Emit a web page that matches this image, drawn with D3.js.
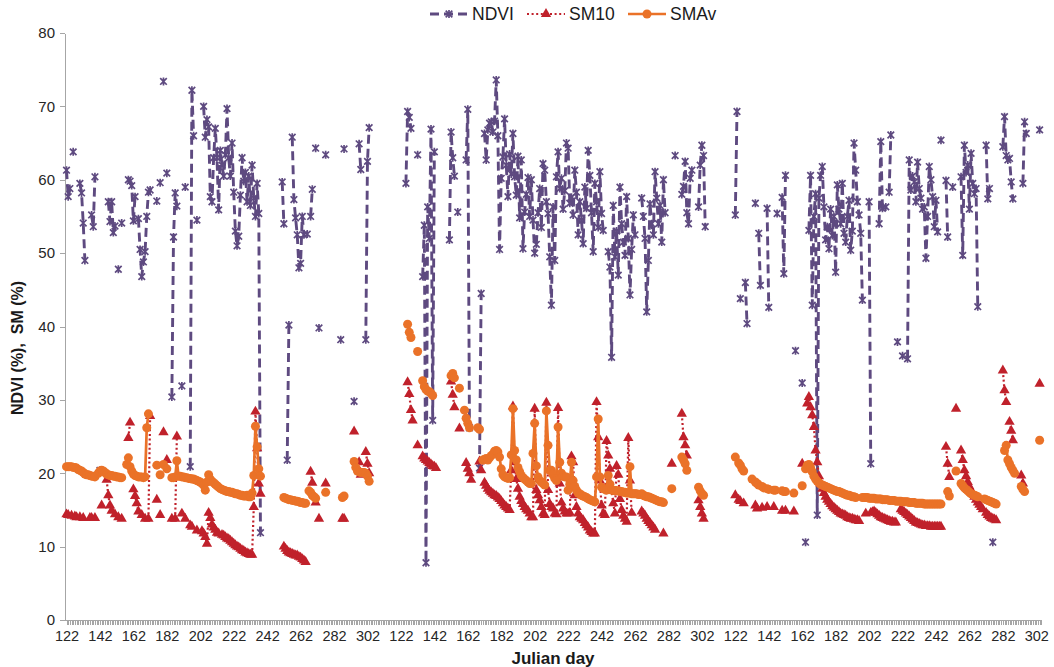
<!DOCTYPE html>
<html lang="en">
<head>
<meta charset="utf-8">
<title>NDVI, SM10, SMAv</title>
<script src="https://cdn.jsdelivr.net/npm/d3@7/dist/d3.min.js"></script>
<style>
  body { margin: 0; background: #fff; }
  text { font-family: "Liberation Sans", Arial, sans-serif; }
  .axis path, .axis line { stroke: #a6a6a6; shape-rendering: crispEdges; }
  .axis text { fill: #262626; }
</style>
</head>
<body>
<svg id="chart" width="1054" height="667"></svg>
<script>
// three seasons side by side on a category axis, each season = days 122..321
var seasonStart = 122;
var seasonLength = 200;
var tickDays = [122, 142, 162, 182, 202, 222, 242, 262, 282, 302];
var yTicks = [0, 10, 20, 30, 40, 50, 60, 70, 80];
var seriesNames = ["NDVI", "SM10", "SMAv"];

// runs of consecutive days: [first day, [values...]]
var ndviSeason1 = [[122,[61.3,57.7,58.8]],[126,[63.8]],[130,[59.5,58.2,54.1,49.0]],[137,[55.2,53.6,60.4]],[142,[20.4]],
  [147,[57.0,54.3,57.0,52.8,53.7]],[153,[47.8]],[155,[54.1]],[159,[60.0,59.8,59.2,54.4,57.7]],
  [165,[54.7,50.5,46.8,48.8,50.2,55.0,58.3,58.6]],[176,[57.1]],[178,[59.6]],[180,[73.4]],[182,[60.9]],
  [185,[30.4,52.2,58.2,56.4]],[191,[31.9]],[193,[59.0]],[196,[20.9,72.2,66.0]],[200,[54.5]],
  [204,[70.0,65.8,68.2,67.2,57.7,57.0,63.0,67.0,63.0,55.9,64.0,62.0,60.5,63.4,69.7,63.0,60.5,65.0,58.3,53.0,51.0,52.3,57.9,63.0,59.8,61.0,57.0,60.5,56.5,62.0,57.5,55.0,59.5,55.4,11.9]],
  [251,[59.7,54.0]],[254,[21.8,40.2]],[257,[65.8,57.3,54.8,52.5,48.0,48.6,55.0,52.5]],[266,[52.6]],
  [268,[55.0,58.7]],[271,[64.3]],[273,[39.8]],[277,[63.4]],[286,[38.2]],[288,[64.2]],[294,[29.8]],
  [297,[64.9,61.4]],[301,[38.2,62.5,67.1]]];
var ndviSeason2 = [[125,[59.5,69.3,68.5,67.0]],[132,[63.4]],[135,[46.8,53.8,7.8,56.3,52.0,66.9,27.2,63.8]],
  [151,[51.8,66.5,63.0,60.5]],[156,[55.6]],[161,[62.7,69.6,26.2]],[169,[20.7,44.5]],
  [172,[66.3,62.7,66.8,67.7,67.9,66.5,68.0,73.6,66.0,50.5,60.2,63.1,68.3,62.0,57.7,63.5,60.8,66.3,60.4,57.9,63.2,54.8,62.7,50.6,55.6,58.0,60.3,55.0,60.0,54.5,50.0,51.2,55.5,58.8,53.5,62.2,61.3,57.0,55.4,49.5,42.9,56.3,49.0,60.4,63.8,58.8,60.2,56.0,58.5,65.0,64.3,56.8,57.6,55.2,61.3,58.3,52.5,57.0,54.5,51.3,59.0,56.1,64.0,60.6,55.5,50.2,59.5,57.0,53.5,61.1,55.4,53.1]],
  [246,[50.2,48.1,35.8,56.5,49.5,53.0,47.0,59.0,54.0,51.5,49.7,57.7,52.0,44.3,50.5,55.2,52.5]],
  [266,[57.5,55.0,52.0,42.0,49.0,56.7,54.0,52.5,61.1,57.5,54.0,56.5,51.5,60.0,55.5]],
  [286,[63.3]],[290,[58.0,59.1,62.5,55.5,54.0,60.2,61.3]],[300,[56.3,62.0,64.7,63.3,53.6]]];
var ndviSeason3 = [[122,[55.2,69.3]],[125,[43.8]],[128,[46.0,40.4]],[134,[56.8]],[136,[52.7,45.6]],[141,[56.1,42.6]],
  [147,[55.4]],[150,[57.6,47.2,60.6]],[158,[36.7]],[162,[32.3]],[164,[10.6]],
  [166,[53.1,60.6,42.9,55.0,58.1,14.3,57.5,60.6,61.8,56.3,51.8,53.6,50.6,56.0,52.4,55.0,47.4,59.3,56.0,54.0,59.5,52.7,51.5,55.0,57.2,50.4,53.0,65.0,61.3,57.0,55.2,52.7,43.6]],
  [202,[57.0,21.3]],[208,[54.0,65.2,56.1]],[212,[56.3]],[214,[58.3,66.1]],[219,[37.9]],[222,[36.0]],
  [225,[35.6,62.7,58.6,60.5,59.7,57.0,62.4,58.8,57.5,56.0,56.3,49.3,55.0,61.8,60.0,57.7,53.6,57.2,52.9]],
  [245,[65.4]],[248,[59.9,52.2]],[252,[59.0]],[257,[60.4,49.7,64.7,61.0,62.0,56.0,63.6,59.5,58.1,58.8,42.7]],
  [272,[64.7,57.4,58.8]],[276,[10.6]],[282,[64.5,68.6,63.3,62.7,62.9,59.7,57.4]],[294,[59.5,67.9,66.3]],[304,[66.8]]];

var sm10Season1 = [[122,[14.4,14.3]],[125,[14.2]],[127,[14.1,14.0]],[130,[14.0]],[132,[13.9]],[136,[13.9,13.9]],[139,[13.9]],
  [143,[15.6]],[146,[19.1,17.0,15.6,14.9]],[151,[14.4]],[153,[14.0]],[155,[13.8]],[159,[24.8,26.9]],
  [162,[17.8,16.9,15.9,14.8]],[167,[14.3]],[169,[13.8]],[171,[13.8,27.8]],[176,[16.4]],[178,[14.3]],[180,[25.6]],[182,[21.8]],
  [185,[13.8]],[187,[13.8,25.0]],[191,[14.5]],[193,[13.8]],[196,[12.9,12.7]],[200,[12.2]],
  [203,[12.1,11.8,11.3,10.4,14.6,13.9,13.0,12.6,12.3,11.9,11.8]],
  [215,[11.6,11.5,11.3,11.1,11.0,10.8,10.6,10.4,10.2,10.0,9.9,9.7,9.5,9.4,9.2,9.1,9.0,8.9,8.9,15.4,28.4,23.4,18.6,17.2]],
  [252,[10.0,9.7,9.4,9.2,9.1,9.0,8.9,8.8,8.8,8.6,8.5,8.3,8.1,7.9]],
  [268,[20.2,18.7]],[271,[16.0]],[273,[13.8]],[277,[18.6]],[287,[13.8,13.8]],[294,[25.7]],[297,[21.5,19.8]],[301,[22.9,21.3,20.0]]];
var sm10Season2 = [[126,[32.4,30.8,28.6,27.2]],[132,[23.8]],[135,[22.3,22.0,21.8,21.6,21.4,21.2,21.0,20.9,20.7]],
  [152,[32.5,30.7,29.0]],[157,[26.1]],[161,[21.4,20.6,20.0,19.1]],[169,[21.6,20.4]],
  [172,[18.7,18.3,17.9,17.6,17.4,17.2,17.0,16.9,16.7,16.5,16.2,15.9,15.6,15.4,15.2,15.0,20.4,29.1,21.5,19.2,17.9,16.8,16.2,15.8,15.4,15.1,14.9,14.5,14.0,14.0,28.8,17.7,17.0,16.3,15.4,14.5,14.3,29.6,17.7,15.8,15.4,15.2,14.5,14.4,28.9,18.6,16.0,15.2,14.8,14.5,14.5,14.6,22.3,21.5,17.0,15.4,14.5,14.0,13.8,13.6,13.2,12.9,12.6,12.2,12.0,11.8,11.8,29.7,24.9,19.0,15.6,14.5,14.3,24.4,22.4,20.6,17.7,15.9,14.5,21.0,19.8,16.5,15.0,14.2,13.8,13.4,24.8,19.0,14.6]],
  [266,[14.8,14.5,14.2,13.8,13.5,13.2,12.9,12.6,12.3]],[279,[11.8]],[284,[21.3]],[290,[28.1,24.9,23.8,22.4]],[300,[16.3,15.4,14.5,13.8]]];
var sm10Season3 = [[122,[17.0]],[124,[16.4,16.2]],[127,[15.9]],[134,[15.6,15.2]],[138,[15.3]],[141,[15.4]],[145,[15.4]],
  [150,[14.9]],[152,[14.9]],[157,[14.8]],[162,[21.3]],
  [165,[29.5,30.4,29.0,27.9,26.3,23.1,21.5,19.6,18.6,17.9,17.3,16.8,16.4,16.1,15.8,15.5,15.3,15.1,14.9,14.7,14.5,14.4,14.3,14.2,14.0,13.9,13.8,13.8,13.7,13.6,13.6,13.5]],
  [200,[14.5]],[203,[14.6,14.7,14.8,14.6,14.4,14.2,14.0,13.9,13.8,13.7,13.6,13.5,13.4,13.4,13.3,13.3]],
  [221,[15.1,14.9,14.7,14.5,14.3,14.1,13.9,13.7,13.5,13.3,13.2,13.1,13.0,12.9,12.9,12.8,12.8,12.8,12.7,12.7,12.7,12.7,12.7,12.7,12.7]],
  [248,[23.6,21.3,19.5]],[254,[28.8]],[257,[23.1,21.8,20.4,19.6,18.8,18.2,17.7,17.2,16.8,16.4,16.0,15.7,15.4,15.1]],
  [272,[14.6,14.3,14.1,13.9,13.8,13.7,13.6]],[282,[34.0,31.3,29.7]],[286,[27.0,25.8,24.5]],[293,[19.7,18.6]],[304,[32.2]]];

var smavSeason1 = [[122,[20.9,20.9,20.9,20.9,20.8,20.8,20.7,20.5,20.4,20.3,20.1,19.9,19.8,19.8,19.7,19.6,19.6,19.5]],
  [141,[20.0,20.3,20.4,20.3,20.1,19.9,19.8,19.7,19.7,19.6,19.6,19.5,19.5,19.4,19.4]],
  [158,[21.2,22.1,20.9,20.3,19.9,19.7,19.6,19.5,19.5,19.5,19.4,19.5,26.2,28.1]],
  [176,[21.1]],[178,[19.8]],[180,[21.2]],[182,[20.6]],
  [185,[19.4,19.4,19.5,21.7,19.6,19.6,19.5,19.5,19.4,19.4,19.3,19.3,19.2,19.2,19.1,19.0,18.9,18.8,18.6,18.4,17.7,18.8,19.8,19.2,18.9,18.7,18.5,18.3,18.1,17.9,17.8,17.7,17.6,17.5,17.5,17.4,17.4,17.3,17.2,17.2,17.1,17.0,17.0,16.9,16.9,17.0,16.8,16.8,17.3,19.7,26.4,23.6,20.6,19.6]],
  [252,[16.7,16.6,16.5,16.4,16.4,16.3,16.3,16.2,16.2,16.1,16.0,16.0,15.9,15.9]],
  [267,[17.6,17.4,17.0,16.8,16.6]],[277,[17.4]],[287,[16.7,16.9]],
  [294,[21.6,20.8,20.3,20.2,20.1,20.1,20.1,20.0,19.6,18.9]]];
var smavSeason2 = [[126,[40.3,39.2,38.5]],[132,[36.6]],[135,[32.6,31.8,31.4,31.2,31.1,30.9,30.6]],
  [152,[33.3,33.6,33.0]],[157,[31.6]],[160,[28.6,27.5,26.8,26.2]],[168,[26.2,26.0]],
  [171,[21.8,21.9,22.0,21.8,22.1,22.4,22.6,23.0,23.1,22.9,22.2,20.6,19.8,19.5,19.4,19.3,19.4,22.5,28.8,23.1,21.8,20.8,20.2,19.7,19.4,19.2,19.0,18.8,18.6,18.6,22.7,26.8,21.0,19.5,19.0,18.8,18.6,18.4,28.5,23.8,20.4,20.4,19.8,19.3,19.0,26.3,21.5,20.0,19.6,19.5,19.5,17.7,18.5,21.5,19.0,18.2,17.7,17.3,17.2,17.0,16.9,16.8,16.7,16.5,16.4,16.3,16.2,16.1,19.5,27.4,19.5,18.1,17.9,17.8,17.7,19.7,18.5,17.7,17.7,17.6,17.6,17.6,17.5,17.5,17.4,17.4,17.3,17.3,20.9,17.2,17.2,17.2,17.2,17.1,17.1,17.2,17.0,16.9,16.8,16.8,16.7,16.6,16.5,16.4,16.3,16.2,16.1,16.1,16.0]],
  [284,[17.9]],[290,[22.2,21.8,21.3,20.4]],[300,[18.1,17.6,17.2,17.0]]];
var smavSeason3 = [[122,[22.2]],[124,[21.4,21.1,20.6,20.3]],[132,[19.2]],[134,[18.8,18.6,18.4]],[138,[18.2,18.0]],
  [141,[17.9,17.8]],[145,[17.7,17.7]],[150,[17.6,17.5,17.5]],[157,[17.3]],[162,[18.3]],
  [164,[20.6,21.1,21.2,20.8,20.2,19.6,19.2,18.9,18.7,18.5,18.4,18.3,18.2,18.1,18.0,17.9,17.8,17.7,17.6,17.5,17.5,17.4,17.3,17.2,17.1,17.0,17.0,16.9,16.8,16.8,16.7]],
  [198,[16.7,16.7,16.7,16.7,16.6,16.6,16.6,16.6,16.5,16.5,16.5,16.5,16.4,16.4,16.4,16.4,16.3,16.3,16.3,16.3,16.2,16.2,16.2,16.2,16.1,16.1,16.1,16.1,16.0,16.0,16.0,16.0,15.9,15.9,15.9,15.9,15.9,15.8,15.8,15.8,15.8,15.8,15.8,15.8,15.8,15.8,15.8,15.8]],
  [249,[17.5,16.9]],[254,[20.3]],[257,[18.6,18.3,18.0,17.8,17.6,17.4,17.2,17.1,17.0,16.9,16.8]],
  [271,[16.5,16.4,16.3,16.2,16.1,16.0,15.9,15.8]],[283,[23.1,23.8,21.8,21.3,20.8,20.4,20.0]],[293,[18.2,17.8,17.5]],[304,[24.5]]];

var nCats = seasonLength * 3;

// turn the runs of each season into one array over all categories, null where no data
function buildSeries(seasons) {
  var byIdx = {};
  seasons.forEach(function(runs, s) {
    runs.forEach(function(r) {
      r[1].forEach(function(v, i) {
        byIdx[s * seasonLength + (r[0] + i - seasonStart)] = v;
      });
    });
  });
  var out = [];
  for (var i = 0; i < nCats; i++) {
    out.push({ idx: i, v: (i in byIdx) ? byIdx[i] : null });
  }
  return out;
}

var series = [
  { name: seriesNames[0], color: "#5e4a80", width: 2.9, dash: "9,5", marker: "star",
    data: buildSeries([ndviSeason1, ndviSeason2, ndviSeason3]) },
  { name: seriesNames[1], color: "#c0212b", width: 2.2, dash: "2,2.6", marker: "triangle",
    data: buildSeries([sm10Season1, sm10Season2, sm10Season3]) },
  { name: seriesNames[2], color: "#ea7228", width: 2.7, dash: null, marker: "circle",
    data: buildSeries([smavSeason1, smavSeason2, smavSeason3]) }
];

var svg = d3.select("#chart");
var x = d3.scaleLinear().domain([-0.9, 583]).range([65, 1041.3]);
var y = d3.scaleLinear().domain([0, 80]).range([620, 33]);

// x axis: one small tick per category, labels every 20 days
var xAxis = d3.axisBottom(x)
  .tickValues(d3.range(0, 584))
  .tickSize(5)
  .tickSizeOuter(0)
  .tickPadding(6)
  .tickFormat(function(i) {
    return (i % 20 === 0 && i <= 580) ? tickDays[(i % seasonLength) / 20] : "";
  });
var gx = svg.append("g").attr("class", "axis")
  .attr("transform", "translate(0," + y(0) + ")")
  .call(xAxis);
gx.selectAll("text").attr("font-size", "14.5px").attr("font-family", "Liberation Sans, Arial, sans-serif");

var yAxis = d3.axisLeft(y).tickValues(yTicks).tickSize(5).tickSizeOuter(0).tickPadding(5);
var gy = svg.append("g").attr("class", "axis")
  .attr("transform", "translate(" + x(-0.9) + ",0)")
  .call(yAxis);
gy.selectAll("text").attr("font-size", "15px").attr("font-family", "Liberation Sans, Arial, sans-serif");

// axis titles
svg.append("text")
  .attr("x", 553).attr("y", 664)
  .attr("text-anchor", "middle")
  .attr("font-size", "17px").attr("font-weight", "bold").attr("fill", "#1a1a1a")
  .text("Julian day");
svg.append("text")
  .attr("transform", "translate(23,348) rotate(-90)")
  .attr("text-anchor", "middle")
  .attr("font-size", "16px").attr("font-weight", "bold").attr("fill", "#1a1a1a")
  .text("NDVI (%),  SM (%)")
  .style("white-space", "pre");

function drawMarker(g, kind, color) {
  if (kind === "star") {
    g.append("path")
      .attr("d", "M-3.3,-3.3L3.3,3.3M-3.3,3.3L3.3,-3.3M0,-4L0,4")
      .attr("stroke", color).attr("stroke-width", 1.7).attr("fill", "none");
  } else if (kind === "triangle") {
    g.append("path")
      .attr("d", d3.symbol(d3.symbolTriangle, 46)())
      .attr("fill", color);
  } else {
    g.append("circle").attr("r", 4.5).attr("fill", color);
  }
}

var line = d3.line()
  .defined(function(d) { return d.v !== null; })
  .x(function(d) { return x(d.idx); })
  .y(function(d) { return y(d.v); });

series.forEach(function(s) {
  var g = svg.append("g");
  g.append("path")
    .datum(s.data)
    .attr("d", line)
    .attr("fill", "none")
    .attr("stroke", s.color)
    .attr("stroke-width", s.width)
    .attr("stroke-dasharray", s.dash)
    .attr("stroke-linejoin", "round");
  g.selectAll("g.mk")
    .data(s.data.filter(function(d) { return d.v !== null; }))
    .enter().append("g")
    .attr("class", "mk")
    .attr("transform", function(d) { return "translate(" + x(d.idx) + "," + y(d.v) + ")"; })
    .each(function() { drawMarker(d3.select(this), s.marker, s.color); });
});

// legend
var legendX = [430, 527, 628];
series.forEach(function(s, i) {
  var lg = svg.append("g").attr("transform", "translate(" + legendX[i] + ",14)");
  lg.append("line")
    .attr("x1", 0).attr("x2", 38).attr("y1", 0).attr("y2", 0)
    .attr("stroke", s.color).attr("stroke-width", s.width)
    .attr("stroke-dasharray", s.dash);
  var m = lg.append("g").attr("transform", "translate(19,0)");
  drawMarker(m, s.marker, s.color);
  lg.append("text")
    .attr("x", 42).attr("y", 6)
    .attr("font-size", "17.5px").attr("fill", "#1a1a1a")
    .text(s.name);
});
</script>
</body>
</html>
